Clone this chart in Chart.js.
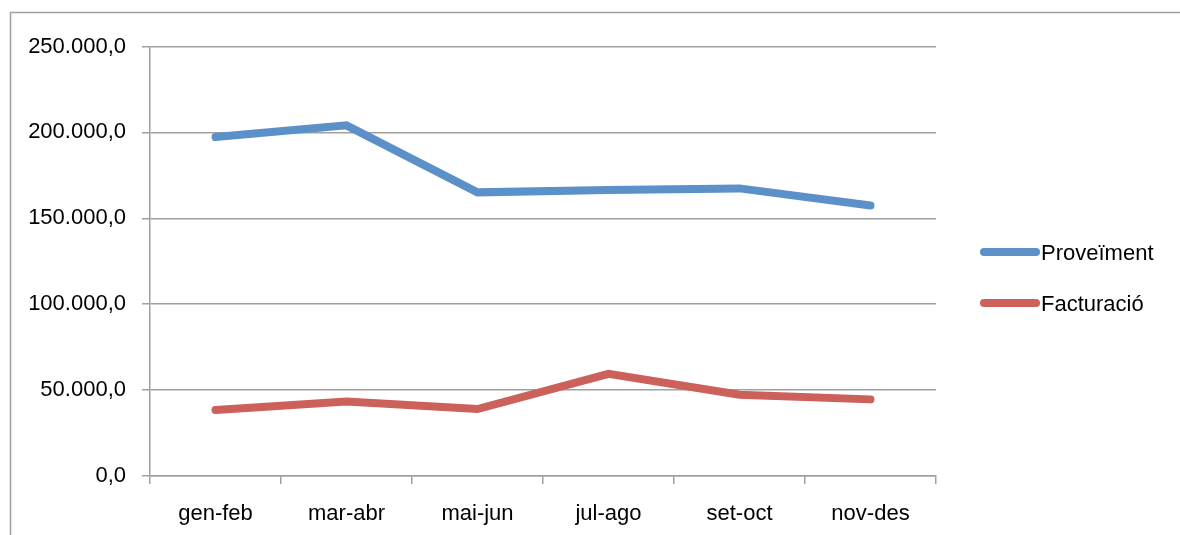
<!DOCTYPE html>
<html>
<head>
<meta charset="utf-8">
<script src="https://cdn.jsdelivr.net/npm/chart.js@4/dist/chart.umd.min.js"></script>
<style>
  html, body { margin: 0; padding: 0; background: #ffffff; }
  #wrap { position: relative; width: 1180px; height: 535px; }
</style>
</head>
<body>
<div id="wrap"><canvas id="c" width="1180" height="535"></canvas></div>
<script>
const categories = ['gen-feb', 'mar-abr', 'mai-jun', 'jul-ago', 'set-oct', 'nov-des'];
const proveiment = [197300, 204100, 165100, 166500, 167400, 157500];
const facturacio = [38400, 43400, 39000, 59500, 47300, 44600];
const seriesLabels = ['Proveïment', 'Facturació'];
const yTickLabels = ['0,0', '50.000,0', '100.000,0', '150.000,0', '200.000,0', '250.000,0'];

const FONT = "'Liberation Sans Narrow', 'Arial Narrow', 'Liberation Sans', Arial, sans-serif";
const FSIZE = 22;
const GRID = '#a0a0a0';

const frame = {
  id: 'frame',
  beforeDraw(chart) {
    const ctx = chart.ctx;
    ctx.save();
    ctx.strokeStyle = '#a0a0a0';
    ctx.lineWidth = 1.5;
    ctx.beginPath();
    ctx.moveTo(10.5, 535);
    ctx.lineTo(10.5, 12.5);
    ctx.lineTo(1180, 12.5);
    ctx.stroke();
    ctx.restore();
  }
};

const sideLegend = {
  id: 'sideLegend',
  afterDraw(chart) {
    const ctx = chart.ctx;
    const ys = [252, 303];
    ctx.save();
    chart.data.datasets.forEach((ds, i) => {
      ctx.strokeStyle = ds.borderColor;
      ctx.lineWidth = 8;
      ctx.lineCap = 'round';
      ctx.beginPath();
      ctx.moveTo(984, ys[i]);
      ctx.lineTo(1036, ys[i]);
      ctx.stroke();
      ctx.fillStyle = '#000000';
      ctx.font = FSIZE + 'px ' + FONT;
      ctx.textAlign = 'left';
      ctx.textBaseline = 'middle';
      ctx.fillText(ds.label, 1041, ys[i] + 2);
    });
    ctx.restore();
  }
};

new Chart(document.getElementById('c'), {
  type: 'line',
  data: {
    labels: categories,
    datasets: [
      { label: seriesLabels[0], data: proveiment, borderColor: '#5b90c8', backgroundColor: '#5b90c8',
        borderWidth: 8, pointRadius: 0, tension: 0, borderCapStyle: 'round', borderJoinStyle: 'miter' },
      { label: seriesLabels[1], data: facturacio, borderColor: '#cc605a', backgroundColor: '#cc605a',
        borderWidth: 8, pointRadius: 0, tension: 0, borderCapStyle: 'round', borderJoinStyle: 'miter' }
    ]
  },
  options: {
    responsive: false,
    animation: false,
    events: [],
    layout: { padding: { top: 46.5, right: 244, left: 0, bottom: 0 } },
    plugins: { legend: { display: false }, tooltip: { enabled: false } },
    scales: {
      x: {
        offset: true,
        grid: { display: true, offset: true, drawOnChartArea: false, drawTicks: true, tickLength: 8, color: GRID, lineWidth: 1.5 },
        border: { display: true, color: GRID, width: 1.5 },
        ticks: { color: '#000000', font: { family: FONT, size: FSIZE }, padding: 17, maxRotation: 0 },
        afterFit(scale) { scale.height = 59; }
      },
      y: {
        min: 0, max: 250000,
        grid: { display: true, drawTicks: true, tickLength: 8, color: GRID, lineWidth: 1.5 },
        border: { display: true, color: GRID, width: 1.5 },
        ticks: { stepSize: 50000, color: '#000000', font: { family: FONT, size: FSIZE }, padding: 16,
          callback: (v, i) => yTickLabels[i] },
        afterFit(scale) { scale.width = 150; }
      }
    }
  },
  plugins: [frame, sideLegend]
});
</script>
</body>
</html>
